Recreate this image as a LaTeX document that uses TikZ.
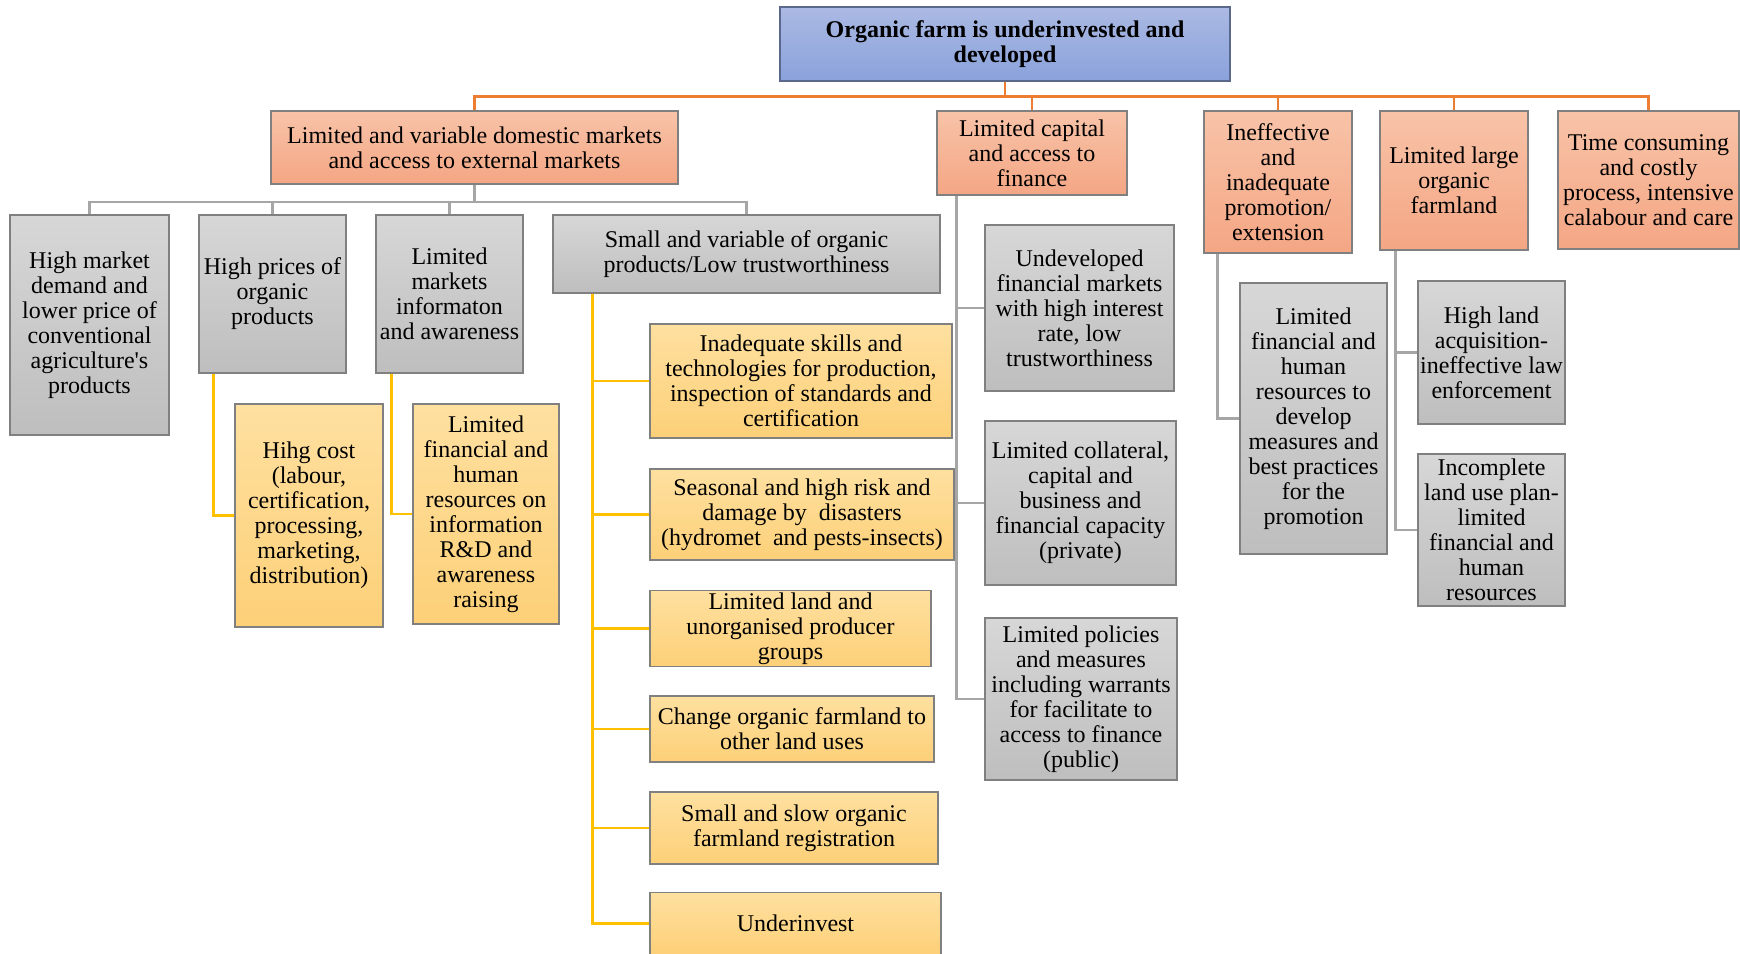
\documentclass[tikz,border=0pt]{standalone}
\usepackage{fontspec}
\setmainfont{Liberation Serif}
\tikzset{
  box/.style={draw=black!50, line width=0.6pt, align=center, inner sep=1pt,
    font=\fontsize{12}{12.5}\selectfont},
  bluebox/.style={box, top color={rgb,255:red,171;green,185;blue,227}, bottom color={rgb,255:red,138;green,162;blue,219}, draw={rgb,255:red,90;green,104;blue,140}},
  redbox/.style={box, top color={rgb,255:red,248;green,195;blue,168}, bottom color={rgb,255:red,244;green,166;blue,132}},
  greybox/.style={box, top color={rgb,255:red,215;green,215;blue,215}, bottom color={rgb,255:red,190;green,190;blue,190}},
  ambox/.style={box, top color={rgb,255:red,254;green,224;blue,160}, bottom color={rgb,255:red,253;green,208;blue,120}},
  obus/.style={draw={rgb,255:red,237;green,125;blue,49}, line width=1.3pt},
  gbus/.style={draw={rgb,255:red,166;green,166;blue,166}, line width=1.1pt},
  ybus/.style={draw={rgb,255:red,255;green,192;blue,0}, line width=1.1pt}
}
\begin{document}
\begin{tikzpicture}[x=0.5pt,y=-0.5pt]
\useasboundingbox (0,0) rectangle (1740,953);
% top
\node[bluebox, minimum width=225pt, minimum height=37pt] (root) at (1005,44) {\textbf{Organic farm is underinvested and}\\\textbf{developed}};
% first level
\node[redbox, minimum width=203.5pt, minimum height=36.5pt] (mkt) at (474.5,147.5) {Limited and variable domestic markets\\and access to external markets};
\node[redbox, minimum width=95pt, minimum height=42pt] (cap) at (1032,153) {Limited capital\\and access to\\finance};
\node[redbox, minimum width=74pt, minimum height=71pt] (prom) at (1278,182) {Ineffective\\and\\inadequate\\promotion/\\extension};
\node[redbox, minimum width=74pt, minimum height=69.5pt] (land) at (1454,180.5) {Limited large\\organic\\farmland};
\node[redbox, minimum width=90.5pt, minimum height=69pt] (time) at (1648.5,180) {Time consuming\\and costly\\process, intensive\\calabour and care};
\draw[obus] (root.south) -- ++(0,15) -| (mkt.north);
\draw[obus] (root.south) -- ++(0,15) -| (cap.north);
\draw[obus] (root.south) -- ++(0,15) -| (prom.north);
\draw[obus] (root.south) -- ++(0,15) -| (land.north);
\draw[obus] (root.south) -- ++(0,15) -| (time.north);
% markets
\node[greybox, minimum width=79.5pt, minimum height=110pt] (dem) at (89.5,325) {High market\\demand and\\lower price of\\conventional\\agriculture\textquotesingle s\\products};
\node[greybox, minimum width=73.5pt, minimum height=79pt] (price) at (272.5,294) {High prices of\\organic\\products};
\node[greybox, minimum width=73.5pt, minimum height=79pt] (info) at (449.5,294) {Limited\\markets\\informaton\\and awareness};
\node[greybox, minimum width=193.5pt, minimum height=39pt] (small) at (746.5,254) {Small and variable of organic\\products/Low trustworthiness};
\draw[gbus] (mkt.south) -- ++(0,17) -| (dem.north);
\draw[gbus] (mkt.south) -- ++(0,17) -| (price.north);
\draw[gbus] (mkt.south) -- ++(0,17) -| (info.north);
\draw[gbus] (mkt.south) -- ++(0,17) -| (small.north);
\node[ambox, minimum width=74pt, minimum height=111.5pt] (cost) at (309,515.5) {Hihg cost\\(labour,\\certification,\\processing,\\marketing,\\distribution)};
\node[ambox, minimum width=73pt, minimum height=110pt] (rd) at (486,514) {Limited\\financial and\\human\\resources on\\information\\R\&D and\\awareness\\raising};
\draw[ybus] ([xshift=7.5pt]price.south west) |- (cost.west);
\draw[ybus] ([xshift=8pt]info.south west) |- (rd.west);
\node[ambox, minimum width=151pt, minimum height=57pt] (skill) at (801,381) {Inadequate skills and\\technologies for production,\\inspection of standards and\\certification};
\node[ambox, minimum width=152pt, minimum height=45.5pt] (risk) at (802,514.5) {Seasonal and high risk and\\damage by~~disasters\\(hydromet~~and pests-insects)};
\node[ambox, minimum width=140.5pt, minimum height=37.5pt] (group) at (790.5,628.5) {Limited land and\\unorganised producer\\groups};
\node[ambox, minimum width=142pt, minimum height=33pt] (use) at (792,729) {Change organic farmland to\\other land uses};
\node[ambox, minimum width=144pt, minimum height=36pt] (reg) at (794,828) {Small and slow organic\\farmland registration};
\node[ambox, minimum width=145.5pt, minimum height=31pt] (inv) at (795.5,923.5) {Underinvest};
\draw[ybus] ([xshift=20pt]small.south west) |- (skill.west);
\draw[ybus] ([xshift=20pt]small.south west) |- (risk.west);
\draw[ybus] ([xshift=20pt]small.south west) |- (group.west);
\draw[ybus] ([xshift=20pt]small.south west) |- (use.west);
\draw[ybus] ([xshift=20pt]small.south west) |- (reg.west);
\draw[ybus] ([xshift=20pt]small.south west) |- (inv.west);
% finance
\node[greybox, minimum width=94.5pt, minimum height=83pt] (fin) at (1079.5,308) {Undeveloped\\financial markets\\with high interest\\rate, low\\trustworthiness};
\node[greybox, minimum width=95.5pt, minimum height=82pt] (coll) at (1080.5,503) {Limited collateral,\\capital and\\business and\\financial capacity\\(private)};
\node[greybox, minimum width=96pt, minimum height=81pt] (pol) at (1081,699) {Limited policies\\and measures\\including warrants\\for facilitate to\\access to finance\\(public)};
\draw[gbus] ([xshift=10pt]cap.south west) |- (fin.west);
\draw[gbus] ([xshift=10pt]cap.south west) |- (coll.west);
\draw[gbus] ([xshift=10pt]cap.south west) |- (pol.west);
% promotion and land
\node[greybox, minimum width=73.5pt, minimum height=135.5pt] (res) at (1313.5,418.5) {Limited\\financial and\\human\\resources to\\develop\\measures and\\best practices\\for the\\promotion};
\draw[gbus] ([xshift=7pt]prom.south west) |- (res.west);
\node[greybox, minimum width=73.5pt, minimum height=71.5pt] (acq) at (1491.5,352.5) {High land\\acquisition-\\ineffective law\\enforcement};
\node[greybox, minimum width=73.5pt, minimum height=76pt] (plan) at (1491.5,530) {Incomplete\\land use plan-\\limited\\financial and\\human\\resources};
\draw[gbus] ([xshift=8pt]land.south west) |- (acq.west);
\draw[gbus] ([xshift=8pt]land.south west) |- (plan.west);
\end{tikzpicture}
\end{document}
